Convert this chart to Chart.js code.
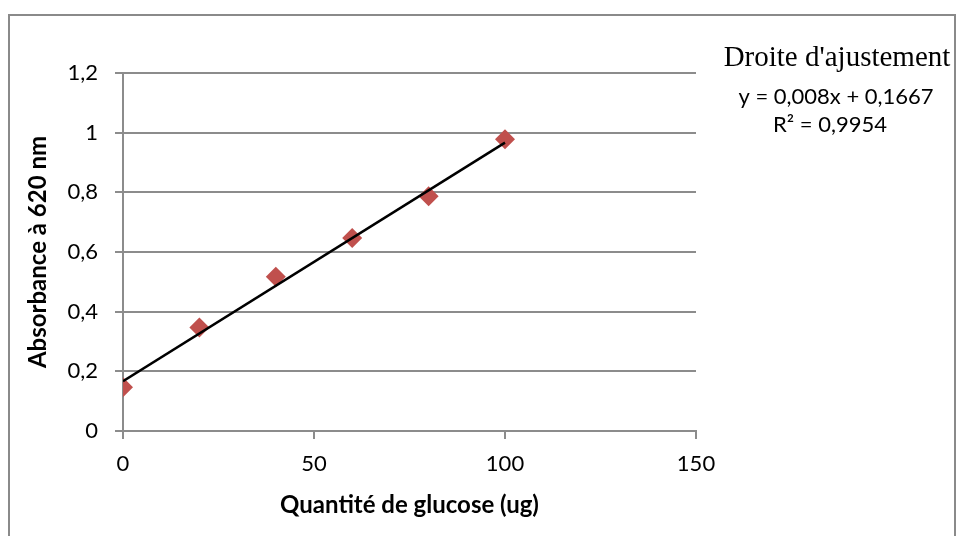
<!DOCTYPE html>
<html>
<head>
<meta charset="utf-8">
<script src="https://cdn.jsdelivr.net/npm/chart.js@4"></script>
<style>
  html, body { margin: 0; padding: 0; background: #fff; }
  #c { display: block; }
</style>
</head>
<body>
<canvas id="c" width="959" height="536"></canvas>
<script>
// Glucose standard curve: absorbance at 620 nm vs amount of glucose
const glucoseUg = [0, 20, 40, 60, 80, 100];
const absorbance = [0.147, 0.347, 0.517, 0.647, 0.787, 0.978];

// Least-squares fit reported on the chart
const fitSlope = 0.008;
const fitIntercept = 0.1667;
const fitR2 = 0.9954;
const fitRange = [0, 100];

const legendTitle = "Droite d'ajustement";
const xTitle = 'Quantité de glucose (ug)';
const yTitle = 'Absorbance à 620 nm';

const fmt = v => String(Math.round(v * 10) / 10).replace('.', ',');
const fmtFull = v => String(v).replace('.', ',');

const points = glucoseUg.map((x, i) => ({ x, y: absorbance[i] }));
const fitLine = fitRange.map(x => ({ x, y: fitSlope * x + fitIntercept }));

const SANS = 'Lato, "Open Sans", sans-serif';
const GRID = '#8c8c8c';

// outer frame and the fit caption on the right
const decor = {
  id: 'decor',
  beforeDraw(chart) {
    const ctx = chart.ctx;
    ctx.save();
    ctx.fillStyle = '#fff';
    ctx.fillRect(0, 0, chart.width, chart.height);
    ctx.strokeStyle = '#8a8a8a';
    ctx.lineWidth = 2;
    ctx.strokeRect(9, 15, 946, 540);
    ctx.restore();
  },
  afterDraw(chart) {
    const ctx = chart.ctx;
    ctx.save();
    ctx.fillStyle = '#000';
    ctx.textAlign = 'center';
    ctx.textBaseline = 'alphabetic';
    ctx.font = '29px "Liberation Serif", "Times New Roman", serif';
    ctx.fillText(legendTitle, 837, 66);
    ctx.font = '22px ' + SANS;
    ctx.fillText('y = ' + fmtFull(fitSlope) + 'x + ' + fmtFull(fitIntercept), 836, 104);
    ctx.fillText('R² = ' + fmtFull(fitR2), 830, 132);
    ctx.restore();
  }
};

new Chart(document.getElementById('c'), {
  type: 'scatter',
  data: {
    datasets: [
      {
        label: 'Absorbance',
        data: points,
        pointStyle: 'rectRot',
        pointRadius: 10,
        pointHoverRadius: 10,
        backgroundColor: '#C0504D',
        borderColor: '#C0504D',
        borderWidth: 0,
        showLine: false,
        order: 2
      },
      {
        label: legendTitle,
        data: fitLine,
        showLine: true,
        borderColor: '#000',
        borderWidth: 2.5,
        pointRadius: 0,
        fill: false,
        order: 1
      }
    ]
  },
  options: {
    responsive: false,
    animation: false,
    events: [],
    layout: { padding: { left: 0, right: 263, top: 73, bottom: 0 } },
    plugins: { legend: { display: false }, tooltip: { enabled: false } },
    scales: {
      x: {
        type: 'linear',
        min: 0, max: 150,
        ticks: { stepSize: 50, color: '#000', font: { family: SANS, size: 22 }, padding: 12, maxRotation: 0, callback: v => fmt(v) },
        grid: { drawOnChartArea: false, drawTicks: true, tickLength: 8, color: GRID, lineWidth: 2 },
        border: { color: GRID, width: 2 },
        title: { display: true, text: xTitle, color: '#000', font: { family: SANS, size: 24, weight: 'bold' }, padding: { bottom: 16 } },
        afterFit(s) { s.height = 105; }
      },
      y: {
        type: 'linear',
        min: 0, max: 1.2,
        ticks: { stepSize: 0.2, color: '#000', font: { family: SANS, size: 22 }, padding: 17, callback: v => fmt(v) },
        grid: { drawOnChartArea: true, drawTicks: true, tickLength: 8, color: GRID, lineWidth: 2 },
        border: { color: GRID, width: 2 },
        title: { display: true, text: yTitle, color: '#000', font: { family: SANS, size: 24, weight: 'bold' }, padding: { top: 24 } },
        afterFit(s) { s.width = 123; }
      }
    }
  },
  plugins: [decor]
});
</script>
</body>
</html>
